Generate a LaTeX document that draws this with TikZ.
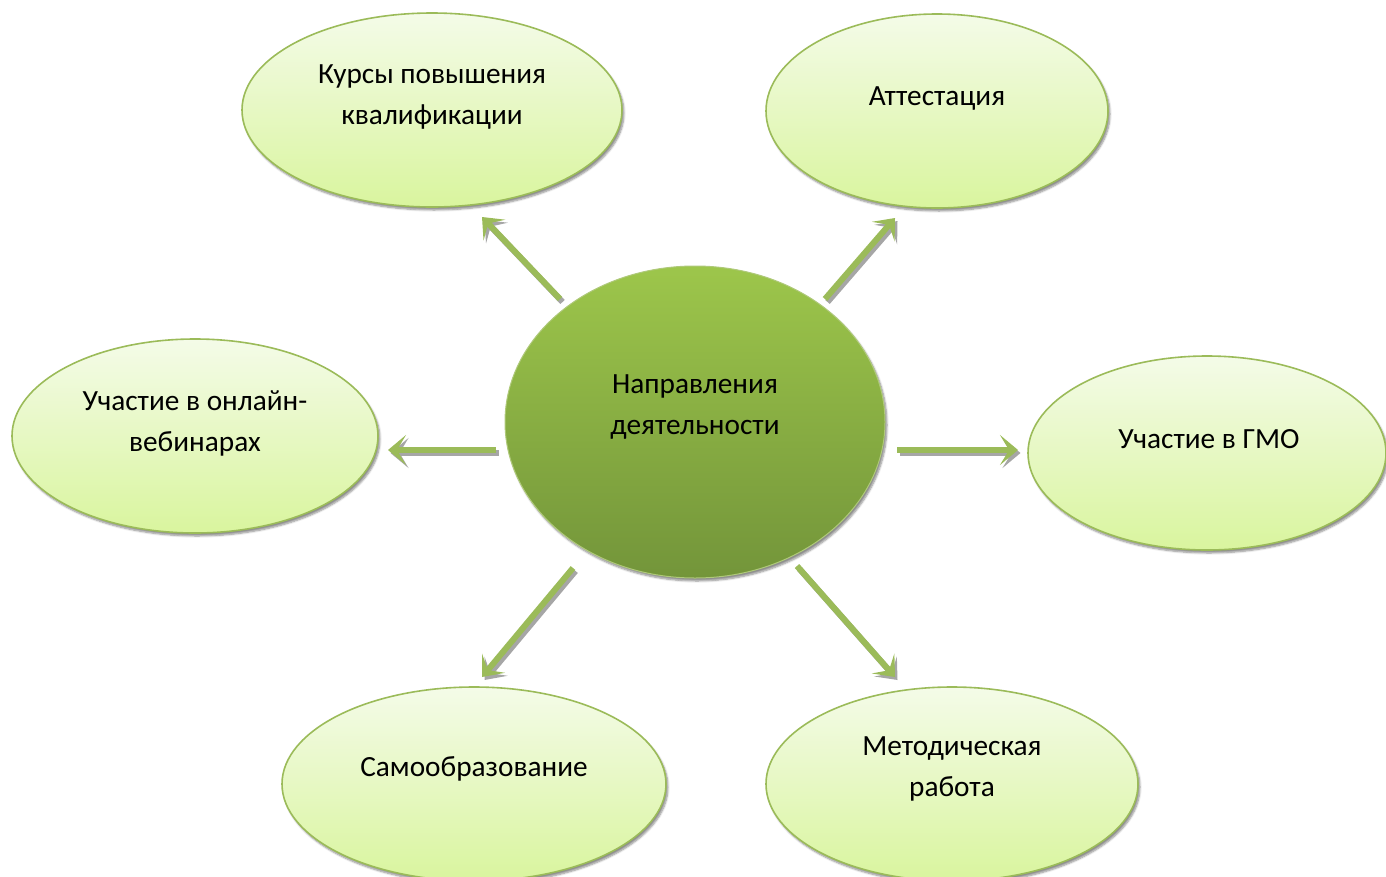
\documentclass[tikz,border=0pt]{standalone}
\usepackage{fontspec}
\setmainfont{Carlito}
\usetikzlibrary{shapes.geometric,arrows.meta,shadows.blur}
\definecolor{olive}{HTML}{9BBB59}
\definecolor{ltop}{HTML}{F4FBE8}
\definecolor{lbot}{HTML}{D9F59E}
\definecolor{ctop}{HTML}{9DC64B}
\definecolor{cbot}{HTML}{73953A}
\definecolor{shd}{HTML}{A6A6A6}
\begin{document}
\begin{tikzpicture}[x=1pt,y=-1pt,
  outer/.style={ellipse,inner sep=0pt,draw=olive,line width=1.6pt,top color=ltop,bottom color=lbot,
    blur shadow={shadow xshift=2pt,shadow yshift=-3pt,shadow blur steps=6,shadow opacity=45}},
  center/.style={ellipse,inner sep=0pt,draw=olive!80!white,line width=1pt,top color=ctop,bottom color=cbot,
    blur shadow={shadow xshift=2pt,shadow yshift=-3pt,shadow blur steps=6,shadow opacity=45}},
  lbl/.style={align=center,font=\fontsize{29.3}{41}\selectfont,text=black},
  arr/.style={draw=olive,line width=6pt,-{Stealth[length=18pt,width=30pt,inset=9pt]}},
  arrsh/.style={draw=shd,line width=6pt,-{Stealth[length=18pt,width=30pt,inset=9pt]}}]
\useasboundingbox (0,0) rectangle (1386,876);
% ellipses
\node[outer,minimum width=380pt,minimum height=194pt] (kurs) at (432,110) {};
\node[outer,minimum width=342pt,minimum height=194pt] (att) at (937,111) {};
\node[outer,minimum width=366pt,minimum height=194pt] (web) at (195,436) {};
\node[outer,minimum width=358pt,minimum height=194pt] (gmo) at (1207,453) {};
\node[outer,minimum width=384pt,minimum height=194pt] (samo) at (474,784) {};
\node[outer,minimum width=372pt,minimum height=194pt] (met) at (952,784) {};
\node[center,minimum width=380pt,minimum height=312pt] (c) at (695,422) {};
% texts
\node[lbl] (tkurs) at (432,97) {Курсы повышения\\квалификации};
\node[lbl] (tatt) at (937,98) {Аттестация};
\node[lbl] (tweb) at (195,423) {Участие в онлайн-\\вебинарах};
\node[lbl] (tgmo) at (1209,439) {Участие в ГМО};
\node[lbl] (tsamo) at (474,769) {Самообразование};
\node[lbl] (tmet) at (952,769) {Методическая\\работа};
\node[lbl] (tc) at (695,407) {Направления\\деятельности};
% arrow endpoints
\coordinate (a1s) at (560,299); \coordinate (a1e) at (482,217);
\coordinate (a2s) at (825,299); \coordinate (a2e) at (895,218);
\coordinate (a3s) at (496,450); \coordinate (a3e) at (388,450);
\coordinate (a4s) at (897,450); \coordinate (a4e) at (1018,450);
\coordinate (a5s) at (573,568); \coordinate (a5e) at (482,677);
\coordinate (a6s) at (797,566); \coordinate (a6e) at (895,677);
\foreach \s/\e in {a1s/a1e,a2s/a2e,a3s/a3e,a4s/a4e,a5s/a5e,a6s/a6e}{
  \draw[arrsh,transform canvas={xshift=2.5pt,yshift=-3pt}] (\s) -- (\e);
  \draw[arr] (\s) -- (\e);
}
\end{tikzpicture}
\end{document}
